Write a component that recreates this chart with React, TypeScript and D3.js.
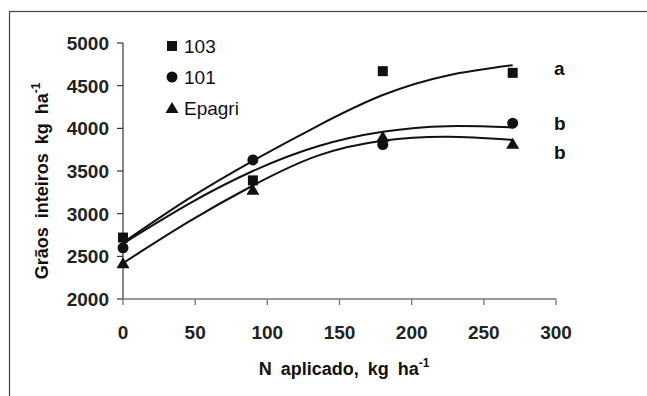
import * as d3 from "d3";

// observed means, N rates in kg/ha
const doses = [0, 90, 180, 270];
const grain103 = [2720, 3390, 4670, 4650];
const grain101 = [2600, 3630, 3810, 4060];
const grainEpagri = [2420, 3280, 3900, 3820];

// fitted response curves
const curveX = [0, 45, 90, 135, 180, 225, 270];
const fit103 = [2660, 3170, 3620, 4030, 4390, 4620, 4740];
const fit101 = [2650, 3110, 3500, 3790, 3960, 4025, 4010];
const fitEpagri = [2420, 2900, 3330, 3680, 3855, 3900, 3865];

const xTicks = [0, 50, 100, 150, 200, 250, 300];
const yTicks = [2000, 2500, 3000, 3500, 4000, 4500, 5000];
const legendNames = ["103", "101", "Epagri"];
const letters = ["a", "b", "b"];

const W = 647;
const H = 396;
const font = "Arial, 'Liberation Sans', Helvetica, sans-serif";

export default function App() {
  const x = d3.scaleLinear().domain([0, 300]).range([123, 556]);
  const y = d3.scaleLinear().domain([2000, 5000]).range([299, 43]);

  const line = d3
    .line<number>()
    .x((_, i) => x(curveX[i]))
    .y((d) => y(d))
    .curve(d3.curveNatural);

  const fits = [fit103, fit101, fitEpagri];
  const obs = [grain103, grain101, grainEpagri];
  const endY = [4700, 4060, 3720];

  const marker = (k: number, cx: number, cy: number, key: string) => {
    if (k === 0)
      return <rect key={key} x={cx - 5} y={cy - 5} width={10} height={10} fill="#111" />;
    if (k === 1) return <circle key={key} cx={cx} cy={cy} r={5.5} fill="#111" />;
    return (
      <path
        key={key}
        d={`M${cx},${cy - 6}L${cx + 6.5},${cy + 5}L${cx - 6.5},${cy + 5}Z`}
        fill="#111"
      />
    );
  };

  return (
    <svg
      width={W}
      height={H}
      style={{ position: "absolute", left: 0, top: 0, background: "#fff" }}
      fontFamily={font}
    >
      <rect x={9.5} y={11.5} width={700} height={500} fill="none" stroke="#444" strokeWidth={1.2} />

      {/* y axis */}
      <line x1={123} x2={123} y1={y(5000)} y2={y(2000)} stroke="#111" />
      {yTicks.map((t) => (
        <g key={t}>
          <line x1={117} x2={123} y1={y(t)} y2={y(t)} stroke="#111" />
          <text
            x={109}
            y={y(t)}
            dy="0.36em"
            textAnchor="end"
            fontSize={19}
            fontWeight="bold"
            fill="#222"
          >
            {t}
          </text>
        </g>
      ))}

      {/* x axis */}
      <line x1={x(0)} x2={x(300)} y1={299} y2={299} stroke="#777" strokeWidth={1.3} />
      {xTicks.map((t) => (
        <g key={t}>
          <line x1={x(t)} x2={x(t)} y1={299} y2={305} stroke="#777" strokeWidth={1.3} />
          <text
            x={x(t)}
            y={332}
            dy="0.36em"
            textAnchor="middle"
            fontSize={19}
            fontWeight="bold"
            fill="#222"
          >
            {t}
          </text>
        </g>
      ))}

      <text x={344} y={375} textAnchor="middle" fontSize={18} fontWeight="bold" fill="#111" wordSpacing={4}>
        N aplicado, kg ha
        <tspan fontSize={12} dy={-8}>-1</tspan>
      </text>

      <text
        transform="translate(48,181) rotate(-90)"
        textAnchor="middle"
        fontSize={18}
        fontWeight="bold"
        fill="#111"
        wordSpacing={4}
      >
        Grãos inteiros kg ha
        <tspan fontSize={12} dy={-8}>-1</tspan>
      </text>

      {/* curves */}
      {fits.map((f, k) => (
        <path key={k} d={line(f) || ""} fill="none" stroke="#111" strokeWidth={2} />
      ))}

      {/* observed points */}
      {obs.map((s, k) => s.map((v, i) => marker(k, x(doses[i]), y(v), `${k}-${i}`)))}

      {/* significance letters */}
      {letters.map((l, k) => (
        <text
          key={k}
          x={x(300) - 2}
          y={y(endY[k])}
          dy="0.36em"
          fontSize={19}
          fontWeight="bold"
          fill="#111"
        >
          {l}
        </text>
      ))}

      {/* legend */}
      {legendNames.map((n, k) => (
        <g key={n}>
          {marker(k, 172, 46 + k * 31, `lg${k}`)}
          <text x={184} y={46 + k * 31} dy="0.36em" fontSize={19} fill="#111">
            {n}
          </text>
        </g>
      ))}
    </svg>
  );
}
